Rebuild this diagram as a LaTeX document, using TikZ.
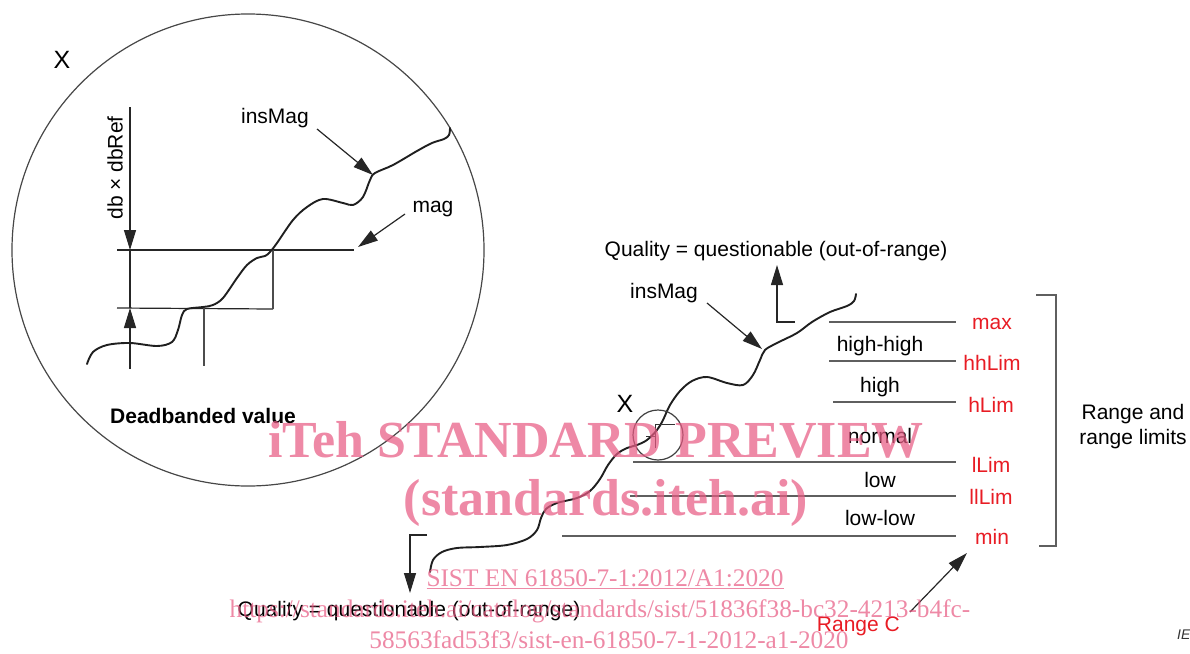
\documentclass[tikz,border=0pt]{standalone}
\usepackage{fontspec}
\setmainfont{Liberation Sans}
\newfontfamily\wmfont{Liberation Serif}
\usetikzlibrary{arrows.meta}
\definecolor{lblred}{RGB}{232,28,36}
\definecolor{rangegray}{RGB}{95,95,95}
\definecolor{wm}{RGB}{231,91,131}
\begin{document}
\begin{tikzpicture}[x=1pt,y=-1pt,
  lbl/.style={font=\fontsize{21}{25}\selectfont, inner sep=0pt, anchor=base},
  redlbl/.style={lbl, text=lblred},
  bigx/.style={font=\fontsize{25}{28}\selectfont, inner sep=0pt, anchor=base},
  wavy/.style={line width=1.9pt, black!88, line cap=round},
  thinline/.style={line width=1.2pt, black!85},
  grayline/.style={line width=1.2pt, black!70},
  rangeline/.style={line width=2.2pt, rangegray},
  arr/.style={thinline, -{Triangle[length=20pt,width=12pt]}},
  wmbig/.style={font=\wmfont\bfseries\fontsize{52}{56}\selectfont, text=wm, opacity=0.72, inner sep=0pt, anchor=base},
  wmsmall/.style={font=\wmfont\fontsize{25.3}{30}\selectfont, text=wm, opacity=0.72, inner sep=0pt, anchor=base}
]
\useasboundingbox (0,0) rectangle (1190,653);

% ---------------- detail circle X ----------------
\node[circle, draw=black!72, line width=1.2pt, minimum size=472pt, inner sep=0pt] (bigc) at (248,250) {};
\node[bigx] (xbig) at (62,68) {X};

% dimension line and arrows
\coordinate (dtop) at (130,107);
\coordinate (dmagtip) at (130,250);
\coordinate (dbot) at (130,369);
\coordinate (dlowtip) at (130,308);
\draw[arr] (dtop) -- (dmagtip);
\draw[thinline] (dmagtip) -- (dlowtip);
\draw[arr] (dbot) -- (dlowtip);
\node[font=\fontsize{21}{25}\selectfont, inner sep=0pt, rotate=90] (dbref) at (115,168) {db × dbRef};

% step lines
\coordinate (magL) at (117,250);
\coordinate (magR) at (354,250);
\coordinate (lowL) at (117,308);
\coordinate (lowR) at (273,309);
\coordinate (stepTop) at (273,250);
\coordinate (dropTop) at (204,308);
\coordinate (dropBot) at (204,366);
\draw[thinline] (magL) -- (magR);
\draw[thinline] (lowL) -- (lowR);
\draw[grayline] (stepTop) -- (lowR);
\draw[grayline] (dropTop) -- (dropBot);

% insMag curve (left)
\draw[wavy] plot[smooth, tension=0.55] coordinates {
 (87,364) (93,352) (107,345) (130,343) (157,346) (172,342) (178,330)
 (182,315) (187,309) (203,307) (213,305) (223,298) (237,278) (247,265)
 (257,258) (265,256) (270,252) (277,243) (293,220) (307,207) (323,199)
 (343,203) (353,205) (363,197) (370,180) (375,173) (393,165) (417,151)
 (432,143) (444,139) (449,135) (450,128)};

\node[lbl] (insmagL) at (275,123) {insMag};
\coordinate (insmagLfrom) at (317,129);
\coordinate (insmagLtip) at (373,175);
\draw[arr] (insmagLfrom) -- (insmagLtip);
\node[lbl] (magl) at (433,212) {mag};
\coordinate (magfrom) at (405,214);
\coordinate (magtip) at (358,247);
\draw[arr] (magfrom) -- (magtip);
\node[font=\bfseries\fontsize{21}{25}\selectfont, inner sep=0pt, anchor=base] (dead) at (203,423) {Deadbanded value};

% ---------------- range diagram ----------------
\draw[wavy] plot[smooth, tension=0.55] coordinates {
 (430,572) (433,560) (442,552) (457,548) (480,547) (507,545) (527,539)
 (537,530) (541,518) (546,509) (557,503) (577,498) (590,491) (600,479)
 (608,465) (617,454) (627,448) (637,445) (647,440) (657,430) (663,420)
 (670,405) (680,391) (692,381) (707,377) (727,383) (743,385) (753,375)
 (760,360) (765,350) (777,343) (797,333) (812,322) (830,312) (847,306)
 (854,301) (856,294)};

\node[bigx] (xsmall) at (625,412) {X};
\node[circle, draw=black!75, line width=1.2pt, minimum size=50pt, inner sep=0pt] (smallc) at (658,435) {};
\coordinate (sm1) at (655,424);
\coordinate (sm2) at (675,424);
\coordinate (sm3) at (655,448);
\coordinate (sm4) at (646,436);
\coordinate (sm5) at (655,436);
\draw[line width=0.9pt, black!80] (sm2) -- (sm1) -- (sm3);
\draw[line width=0.9pt, black!80] (sm4) -- (sm5);

\node[lbl] (qtop) at (776,256) {Quality = questionable (out-of-range)};
\coordinate (qa1) at (795,322);
\coordinate (qa2) at (777,322);
\coordinate (qa3) at (777,265);
\draw[arr] (qa1) -- (qa2) -- (qa3);

\node[lbl] (insmagR) at (664,298) {insMag};
\coordinate (insmagRfrom) at (707,303);
\coordinate (insmagRtip) at (762,349);
\draw[arr] (insmagRfrom) -- (insmagRtip);

\node[lbl] (qbot) at (409,616) {Quality = questionable (out-of-range)};
\coordinate (qb1) at (427,535);
\coordinate (qb2) at (410,535);
\coordinate (qb3) at (410,593);
\draw[arr] (qb1) -- (qb2) -- (qb3);

% range lines
\coordinate (maxL) at (829,322);   \coordinate (maxR) at (956,322);
\coordinate (hhL) at (829,361);    \coordinate (hhR) at (956,361);
\coordinate (hL) at (833,402);     \coordinate (hR) at (956,402);
\coordinate (lL) at (633,462);     \coordinate (lR) at (956,462);
\coordinate (llL) at (630,496);    \coordinate (llR) at (956,496);
\coordinate (minL) at (562,536);   \coordinate (minR) at (956,536);
\foreach \a/\b in {maxL/maxR, hhL/hhR, hL/hR, lL/lR, llL/llR, minL/minR}
  \draw[rangeline] (\a) -- (\b);

\node[lbl] (hh) at (880,351) {high-high};
\node[lbl] (hi) at (880,392) {high};
\node[lbl] (no) at (880,443) {normal};
\node[lbl] (lo) at (880,487) {low};
\node[lbl] (ll) at (880,525) {low-low};

\node[redlbl] (rmax) at (992,329) {max};
\node[redlbl] (rhh) at (992,370) {hhLim};
\node[redlbl] (rh) at (991,412) {hLim};
\node[redlbl] (rl) at (991,472) {lLim};
\node[redlbl] (rll) at (991,504) {llLim};
\node[redlbl] (rmin) at (992,544) {min};

% bracket
\coordinate (b1) at (1036,295);
\coordinate (b2) at (1056,295);
\coordinate (b3) at (1056,546);
\coordinate (b4) at (1039,546);
\draw[line width=2pt, rangegray] (b1) -- (b2) -- (b3) -- (b4);
\node[font=\fontsize{21}{25}\selectfont, inner sep=0pt, align=center] (rng) at (1133,427) {Range and\\range limits};

\node[redlbl, anchor=base east] (rangec) at (900,631) {Range C};
\coordinate (rcfrom) at (910,612);
\coordinate (rctip) at (967,553);
\draw[arr] (rcfrom) -- (rctip);

\node[font=\itshape\fontsize{14}{16}\selectfont, inner sep=0pt, anchor=base west, text=black!80] (iec) at (1177,639) {IE};

% ---------------- watermark ----------------
\node[wmbig] (wm1) at (596,457) {iTeh STANDARD PREVIEW};
\node[wmbig] (wm2) at (606,515) {(standards.iteh.ai)};
\node[wmsmall] (wm3) at (605,586) {\underline{SIST EN 61850-7-1:2012/A1:2020}};
\node[wmsmall] (wm4) at (600,617) {https://standards.iteh.ai/catalog/standards/sist/51836f38-bc32-4213-b4fc-};
\node[wmsmall] (wm5) at (609,648) {58563fad53f3/sist-en-61850-7-1-2012-a1-2020};
\end{tikzpicture}
\end{document}
